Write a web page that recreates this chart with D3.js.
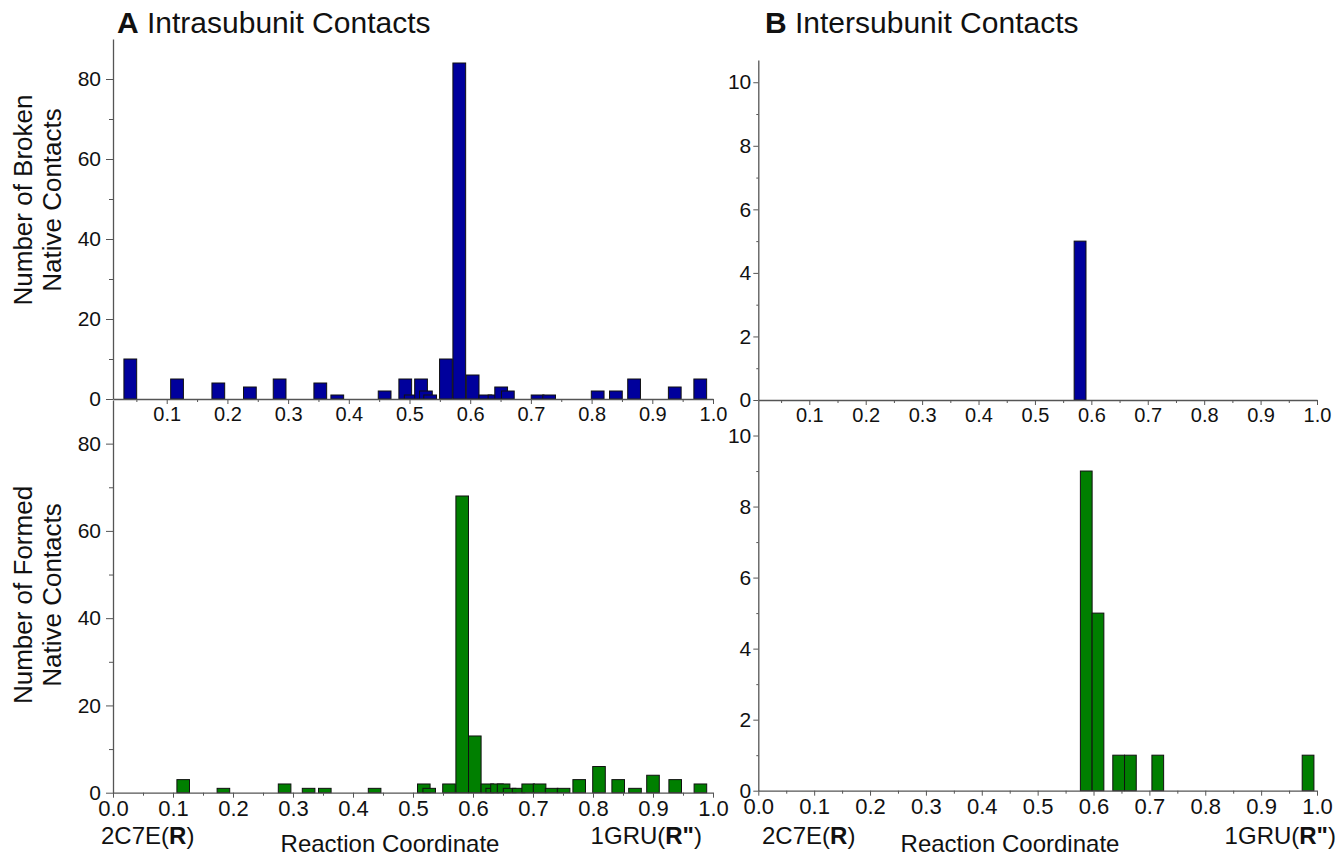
<!DOCTYPE html>
<html>
<head>
<meta charset="utf-8">
<script src="https://cdn.jsdelivr.net/npm/d3@7"></script>
<style>
  body { margin: 0; background: #fff; }
  text { font-family: "Liberation Sans", Arial, sans-serif; fill: #111; }
</style>
</head>
<body>
<div id="wrapper"></div>
<script>
// bar positions (reaction coordinate) and counts
const brokenIntraX = [0.040, 0.117, 0.185, 0.237, 0.286, 0.353, 0.381, 0.459, 0.493, 0.502, 0.519, 0.527, 0.534, 0.560, 0.582, 0.604, 0.625, 0.640, 0.651, 0.662, 0.711, 0.730, 0.810, 0.840, 0.870, 0.937, 0.979]
const brokenIntraY = [10, 5, 4, 3, 5, 4, 1, 2, 5, 1, 5, 2, 1, 10, 84, 6, 1, 1, 3, 2, 1, 1, 2, 2, 5, 3, 5]

const formedIntraX = [0.117, 0.184, 0.286, 0.326, 0.353, 0.436, 0.518, 0.527, 0.560, 0.582, 0.603, 0.624, 0.632, 0.640, 0.651, 0.661, 0.676, 0.692, 0.711, 0.731, 0.751, 0.777, 0.810, 0.842, 0.870, 0.900, 0.937, 0.979]
const formedIntraY = [3, 1, 2, 1, 1, 1, 2, 1, 2, 68, 13, 2, 1, 2, 2, 1, 1, 2, 2, 1, 1, 3, 6, 3, 1, 4, 3, 2]

const brokenInterX = [0.580]
const brokenInterY = [5]

const formedInterX = [0.587, 0.608, 0.645, 0.666, 0.715, 0.984]
const formedInterY = [9, 5, 1, 1, 1, 1]

const xTicks = [0.1, 0.2, 0.3, 0.4, 0.5, 0.6, 0.7, 0.8, 0.9, 1.0]
const xTicksFull = [0.0].concat(xTicks)
const xMinor = [0.05, 0.15, 0.25, 0.35, 0.45, 0.55, 0.65, 0.75, 0.85, 0.95]
const yTicksA = [0, 20, 40, 60, 80]
const yMinorA = [10, 30, 50, 70]
const yTicksB = [0, 2, 4, 6, 8, 10]
const yMinorB = [1, 3, 5, 7, 9]

const binWidth = 0.021
const blue = "#00009c"
const green = "#007f00"

const svg = d3.select("#wrapper")
  .append("svg")
    .attr("width", 1344)
    .attr("height", 858)

// one panel = one bar chart with its own scales
function drawPanel(p) {
  const xScale = d3.scaleLinear().domain(p.xDomain).range([p.left, p.right])
  const yScale = d3.scaleLinear().domain(p.yDomain).range([p.bottom, p.top])

  const data = p.xs.map((x, i) => ({x: x, y: p.ys[i]}))

  svg.append("g").selectAll("rect")
    .data(data)
    .enter()
    .append("rect")
      .attr("x", d => xScale(d.x - binWidth / 2))
      .attr("width", d => xScale(d.x + binWidth / 2) - xScale(d.x - binWidth / 2))
      .attr("y", d => yScale(d.y))
      .attr("height", d => yScale(0) - yScale(d.y))
      .attr("fill", p.color)
      .attr("stroke", "#111")
      .attr("stroke-width", 1)

  // y axis, major + minor
  const yAxis = svg.append("g")
    .attr("transform", `translate(${p.left},0)`)
    .call(d3.axisLeft(yScale).tickValues(p.yTicks).tickSize(p.yTick).tickSizeOuter(0).tickPadding(p.yPad))
  const yMinorAxis = svg.append("g")
    .attr("transform", `translate(${p.left},0)`)
    .call(d3.axisLeft(yScale).tickValues(p.yMinor).tickSize(p.yTick - 3).tickSizeOuter(0).tickFormat(""))
  yMinorAxis.select(".domain").remove()
  yAxis.selectAll("text").style("font-size", "21px")

  // x axis
  const xAxis = svg.append("g")
    .attr("transform", `translate(0,${p.bottom})`)
    .call(d3.axisBottom(xScale).tickValues(p.xTicks).tickSize(5).tickSizeOuter(0).tickPadding(3).tickFormat(d3.format(".1f")))
  const xMinorAxis = svg.append("g")
    .attr("transform", `translate(0,${p.bottom})`)
    .call(d3.axisBottom(xScale).tickValues(xMinor).tickSize(3).tickSizeOuter(0).tickFormat(""))
  xMinorAxis.select(".domain").remove()
  xAxis.selectAll("text").style("font-size", p.xFont + "px")

  svg.selectAll(".domain").attr("stroke", "#555").attr("stroke-width", 1.3)
  svg.selectAll(".tick line").attr("stroke", "#555")
}

const panels = [
  {xs: brokenIntraX, ys: brokenIntraY, color: blue, left: 113, right: 713, top: 39, bottom: 399,
   xDomain: [0.0115, 1.0], yDomain: [0, 90], xTicks: xTicks, yTicks: yTicksA, yMinor: yMinorA, xFont: 20, yTick: 7, yPad: 5},
  {xs: formedIntraX, ys: formedIntraY, color: green, left: 113, right: 713, top: 400, bottom: 792.7,
   xDomain: [0, 1.0], yDomain: [0, 90], xTicks: xTicksFull, yTicks: yTicksA, yMinor: yMinorA, xFont: 22, yTick: 7, yPad: 5},
  {xs: brokenInterX, ys: brokenInterY, color: blue, left: 758.3, right: 1317, top: 60, bottom: 400,
   xDomain: [0.0096, 1.0], yDomain: [0, 10.7], xTicks: xTicks, yTicks: yTicksB, yMinor: yMinorB, xFont: 20, yTick: 5, yPad: 2},
  {xs: formedInterX, ys: formedInterY, color: green, left: 758.3, right: 1317, top: 400, bottom: 790.7,
   xDomain: [0, 1.0], yDomain: [0, 11], xTicks: xTicksFull, yTicks: yTicksB, yMinor: yMinorB, xFont: 22, yTick: 5, yPad: 2},
]
panels.forEach(drawPanel)

// panel titles
const titles = [{x: 117, letter: "A", text: " Intrasubunit Contacts"}, {x: 765, letter: "B", text: " Intersubunit Contacts"}]
titles.forEach(t => {
  const txt = svg.append("text").attr("x", t.x).attr("y", 33).style("font-size", "30px")
  txt.append("tspan").attr("font-weight", "bold").text(t.letter)
  txt.append("tspan").text(t.text)
})

// y axis titles (two lines, rotated)
const yLabels = [
  {cy: 200, lines: ["Number of Broken", "Native Contacts"]},
  {cy: 595, lines: ["Number of Formed", "Native Contacts"]},
]
yLabels.forEach(l => {
  l.lines.forEach((line, i) => {
    svg.append("text")
      .attr("transform", `translate(${32 + i * 29},${l.cy}) rotate(-90)`)
      .attr("text-anchor", "middle")
      .style("font-size", "26px")
      .text(line)
  })
})

// x axis captions under the bottom panels
const captions = [
  {left: 101, mid: 390, right: 702},
  {left: 762, mid: 1010, right: 1336},
]
captions.forEach(c => {
  const a = svg.append("text").attr("x", c.left).attr("y", 844).style("font-size", "24px")
  a.append("tspan").text("2C7E(")
  a.append("tspan").attr("font-weight", "bold").text("R")
  a.append("tspan").text(")")

  svg.append("text").attr("x", c.mid).attr("y", 852).attr("text-anchor", "middle")
    .style("font-size", "24px").text("Reaction Coordinate")

  const b = svg.append("text").attr("x", c.right).attr("y", 844).attr("text-anchor", "end").style("font-size", "24px")
  b.append("tspan").text("1GRU(")
  b.append("tspan").attr("font-weight", "bold").text("R\"")
  b.append("tspan").text(")")
})
</script>
</body>
</html>
